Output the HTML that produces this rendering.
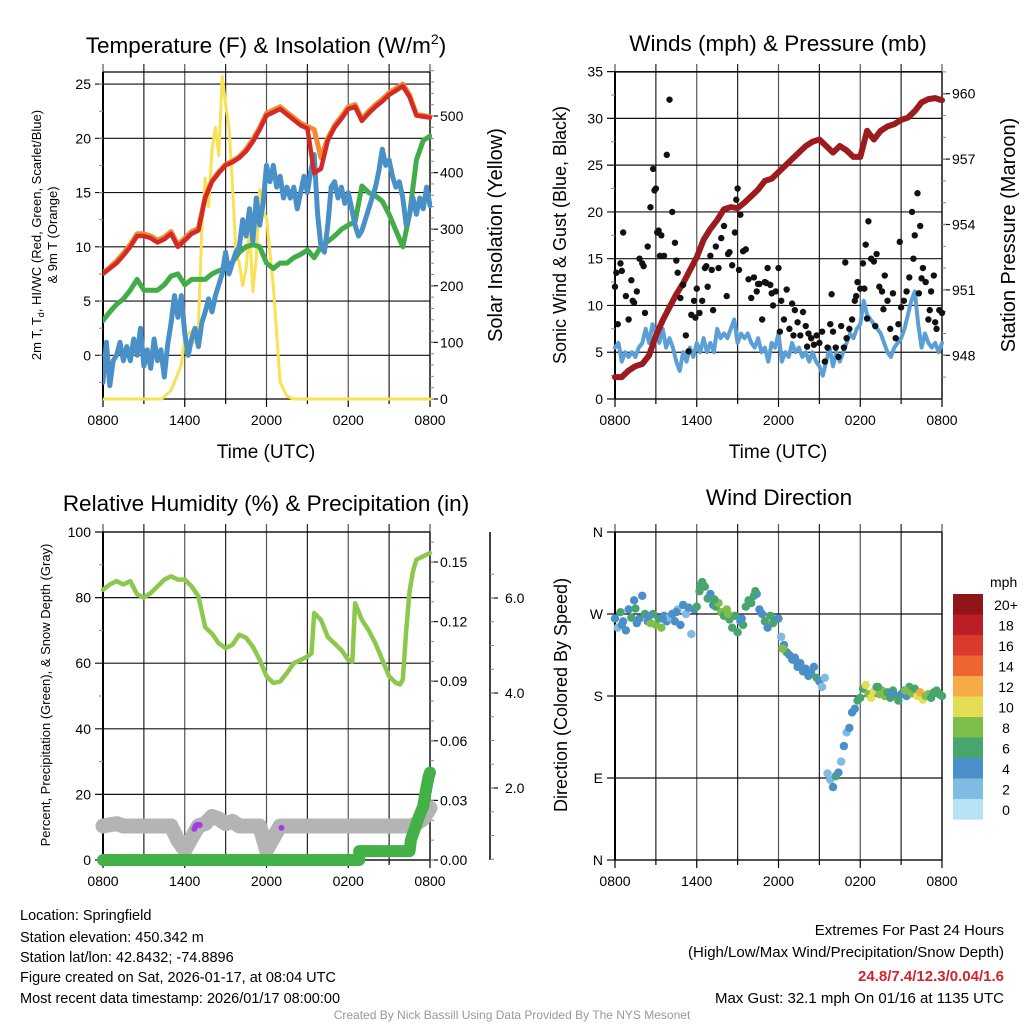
<!DOCTYPE html>
<html><head><meta charset="utf-8">
<style>
body{margin:0;background:#fff;}
svg{display:block;font-family:"Liberation Sans",sans-serif;}
</style></head>
<body>
<svg id="chart" width="1024" height="1024" viewBox="0 0 1024 1024" xmlns="http://www.w3.org/2000/svg">
<rect width="1024" height="1024" fill="#fff"/>
<g id="layer"></g>
<text x="266" y="53" font-size="22.5" text-anchor="middle">Temperature (F) &amp; Insolation (W/m<tspan dy="-9" font-size="14">2</tspan><tspan dy="9">)</tspan></text>
<text x="778" y="51" font-size="22.5" text-anchor="middle">Winds (mph) &amp; Pressure (mb)</text>
<text x="266" y="511" font-size="22.5" text-anchor="middle">Relative Humidity (%) &amp; Precipitation (in)</text>
<text x="779" y="505" font-size="22.5" text-anchor="middle">Wind Direction</text>
<text x="266" y="458" font-size="19" text-anchor="middle">Time (UTC)</text>
<text x="778" y="458" font-size="19" text-anchor="middle">Time (UTC)</text>
<text font-size="13" text-anchor="middle" transform="translate(41,235) rotate(-90)">2m T, T<tspan dy="3" font-size="9">d</tspan><tspan dy="-3">, HI/WC (Red, Green, Scarlet/Blue)</tspan></text>
<text font-size="13" text-anchor="middle" transform="translate(57,235) rotate(-90)">&amp; 9m T (Orange)</text>
<text font-size="20" text-anchor="middle" transform="translate(502,235) rotate(-90)">Solar Insolation (Yellow)</text>
<text font-size="18" text-anchor="middle" transform="translate(566,235) rotate(-90)">Sonic Wind &amp; Gust (Blue, Black)</text>
<text font-size="20" text-anchor="middle" transform="translate(1015,235) rotate(-90)">Station Pressure (Maroon)</text>
<text font-size="13" text-anchor="middle" transform="translate(50,695) rotate(-90)">Percent, Precipitation (Green), &amp; Snow Depth (Gray)</text>
<text font-size="18" text-anchor="middle" transform="translate(567,695) rotate(-90)">Direction (Colored By Speed)</text>
<g font-size="14.5">
<text x="20" y="920">Location: Springfield</text>
<text x="20" y="942">Station elevation: 450.342 m</text>
<text x="20" y="962">Station lat/lon: 42.8432; -74.8896</text>
<text x="20" y="982">Figure created on Sat, 2026-01-17, at 08:04 UTC</text>
<text x="20" y="1003">Most recent data timestamp: 2026/01/17 08:00:00</text>
</g>
<g font-size="15" text-anchor="end">
<text x="1004" y="935">Extremes For Past 24 Hours</text>
<text x="1004" y="957">(High/Low/Max Wind/Precipitation/Snow Depth)</text>
<text x="1004" y="981" fill="#d0262b" font-weight="bold">24.8/7.4/12.3/0.04/1.6</text>
<text x="1004" y="1003">Max Gust: 32.1 mph On 01/16 at 1135 UTC</text>
</g>
<text x="512" y="1019" font-size="12" fill="#999" text-anchor="middle">Created By Nick Bassill Using Data Provided By The NYS Mesonet</text>
</svg>
<script>
// ---- data ----
const timeLabels=["0800","1400","2000","0200","0800"];
const halfHours=[0,0.5,1,1.5,2,2.5,3,3.5,4,4.5,5,5.5,6,6.5,7,7.5,8,8.5,9,9.5,10,10.5,11,11.5,12,12.5,13,13.5,14,14.5,15,15.5,16,16.5,17,17.5,18,18.5,19,19.5,20,20.5,21,21.5,22,22.5,23,23.5,24];
const tempRed=[7.5,8,8.5,9.2,10,11,11,10.8,10.4,10.7,11.2,10,10.6,11.2,11.5,14.5,16,16.8,17.5,17.8,18.2,18.8,19.7,20.8,22.1,22.4,22.7,22.2,21.7,21.2,20.9,16.8,17.2,19.8,21,21.8,22.7,22.9,21.6,22.3,22.9,23.4,24,24.4,24.8,23.8,22.1,22,21.9];
const temp9m=[7.6,8.1,8.7,9.4,10.2,11.2,11.2,11,10.6,10.9,11.4,10.2,10.8,11.4,11.7,14.6,16.1,16.9,17.6,17.9,18.3,19,19.9,21,22.3,22.6,22.9,22.4,21.9,21.4,21.1,20.8,18.2,20,21.2,22,22.9,23.1,21.8,22.5,23.1,23.6,24.2,24.6,25,24,22.2,22.1,22];
const dewGreen=[3.2,4,4.7,5.2,6,7,6,6,6,6.5,7.3,7.5,6.5,7,7,7,7.5,7.8,8,8.6,9.5,10,10.2,10,8.5,8,8.5,8.5,9,9.3,9.7,9,10,10.5,11,11.6,12,12.3,15.6,15,14.7,14.2,13,11.5,10,13,18,19.8,20.2];
const quarterHours=[0,0.25,0.5,0.75,1,1.25,1.5,1.75,2,2.25,2.5,2.75,3,3.25,3.5,3.75,4,4.25,4.5,4.75,5,5.25,5.5,5.75,6,6.25,6.5,6.75,7,7.25,7.5,7.75,8,8.25,8.5,8.75,9,9.25,9.5,9.75,10,10.25,10.5,10.75,11,11.25,11.5,11.75,12,12.25,12.5,12.75,13,13.25,13.5,13.75,14,14.25,14.5,14.75,15,15.25,15.5,15.75,16,16.25,16.5,16.75,17,17.25,17.5,17.75,18,18.25,18.5,18.75,19,19.25,19.5,19.75,20,20.25,20.5,20.75,21,21.25,21.5,21.75,22,22.25,22.5,22.75,23,23.25,23.5,23.75,24];
const windChill=[-2.5,1.2,-2.8,-0.5,0,1.2,-0.5,0.8,-0.5,1.5,0,2.5,-1,0.5,-1.2,1.5,-0.5,0.5,-2,1,3,5.5,3.5,5.5,2,0,1.5,2.5,0.8,3,4,5.2,4,5.5,6.5,7.5,9.5,7.5,8.5,9.5,10,12.5,11,13.5,10.5,14.5,12,14,17.5,16,17.5,15.5,16.5,14.5,15.5,14.5,15.5,13.5,15,16.5,15,17,18.5,13,10,9.5,12,15.5,16,14.5,15.5,14,15,13.5,12,11,11.5,12.5,13.5,14.5,15.5,17,19,17.5,18,16.5,15.5,16,14.5,12,13,14.5,13,14.5,13.5,15.5,13.8];
const solarHours=[0,4.3,5,5.5,5.75,6,6.5,6.75,7,7.25,7.5,7.75,8,8.25,8.5,8.75,9,9.25,9.5,9.75,10,10.25,10.5,10.75,11,11.25,11.5,11.75,12,12.5,13,13.5,14,24];
const solarValues=[0,0,15,45,60,110,120,100,130,300,390,340,440,480,430,570,520,480,380,260,240,200,230,300,190,250,370,330,320,200,30,5,0,0];
const windSpeed=[5.5,6,4,5,4.5,5,4.5,5.5,6,7.5,6,8,7,6,7.5,5.5,6.5,5.5,4,3,5,4,5.5,4.5,6,5,6.5,5,6,5,7.5,6.5,7,6.5,7.5,8.5,6,7,6.5,7,6,5.5,6.5,5,5.5,4,6,5.5,7,4,5,4.5,6,5,5.5,4.5,5,4,5,4,3.5,2.5,4,5.5,3.5,5,4,5,6,7,6.5,7.5,8,10.5,9,8.5,8,7.5,7,6,5,4.5,5.5,6,6.5,7.5,9,10.5,11.5,8,5.5,7,6,5.5,6,5,6];
const pressure=[947,947,947.3,947.5,947.6,948,948.9,949.6,950.2,950.8,951.3,951.9,952.5,953.3,953.8,954.2,954.7,954.8,954.75,955,955.3,955.6,956,956.1,956.4,956.7,957,957.3,957.6,957.8,957.9,957.6,957.3,957.6,957.4,957.1,957.1,958.3,957.9,958.3,958.5,958.6,958.8,958.9,959.2,959.6,959.75,959.8,959.7];
const gustHours=[0,0.2,0.4,0.6,0.8,1,1.2,1.4,1.6,1.8,2,2.2,2.4,2.6,2.8,3,3.2,3.4,3.6,3.8,4,4.2,4.4,4.6,4.8,5,5.2,5.4,5.6,5.8,6,6.2,6.4,6.6,6.8,7,7.2,7.4,7.6,7.8,8,8.2,8.4,8.6,8.8,9,9.2,9.4,9.6,9.8,10,10.2,10.4,10.6,10.8,11,11.2,11.4,11.6,11.8,12,12.2,12.4,12.6,12.8,13,13.2,13.4,13.6,13.8,14,14.2,14.4,14.6,14.8,15,15.2,15.4,15.6,15.8,16,16.2,16.4,16.6,16.8,17,17.2,17.4,17.6,17.8,18,18.2,18.4,18.6,18.8,19,19.2,19.4,19.6,19.8,20,20.2,20.4,20.6,20.8,21,21.2,21.4,21.6,21.8,22,22.2,22.4,22.6,22.8,23,23.2,23.4,23.6,23.8,24,0.1,0.5,1.3,2.1,2.9,3.1,3.3,4.5,5.9,6.7,7.1,8.3,8.9,9.1,10.5,11.1,11.5,12.1,13.1,14.1,15.9,16.9,17.7,18.3,18.5,19.1,19.7,20.9,21.9,22.3,22.5,23.1,23.5];
const gustValues=[12,8,14.5,17.8,11,8.5,12.7,10.3,11.5,15,14.5,9.2,16.3,20.5,24.6,22.5,18,17.5,15.3,26.1,32,20,16.7,13.5,10.8,12.2,6.8,5.1,9,10.5,11.8,9.2,10.5,14,12,15.3,9.5,16.3,14,17.2,18.5,11,15.7,14.3,17.8,22.5,19.7,15.8,16,12.8,10.8,13,11.5,12.3,8.5,12.5,14,12.2,10,11.5,14,10.5,8.5,11.7,7.5,10.2,9.5,8.2,6.8,9.3,7.8,7,6.5,5.8,6.8,6,7.2,4,5.5,8,7.2,5.5,4.5,7.8,5.5,6.5,7.5,8.5,10.5,12.5,11.8,14.5,16.5,19,15,14.7,15.5,12,11.5,13.2,10.5,7.5,11.3,6.5,8,9.8,10.5,11.5,13,20,17.5,22,18.5,14,12.5,8.5,11.5,13.2,7.5,9.5,9.2,13.5,13.7,10.5,14.2,22.3,17.8,15.3,14.8,8.7,14.2,13.8,15.5,21.3,13.8,12.3,12.4,11.3,7.2,6.8,5.6,11.2,14.6,11,11.8,8.6,7.8,9.6,16.8,15,11.3,12.9,9.5,8.2];
const rhHours=[0,0.5,1,1.5,2,2.5,3,3.5,4,4.5,5,5.5,6,6.5,7,7.5,8,8.5,9,9.5,10,10.5,11,11.5,12,12.5,13,13.5,14,14.5,15,15.3,15.5,16,16.5,17,17.5,18,18.3,18.5,19,19.5,20,20.5,21,21.5,21.8,22,22.25,22.5,22.75,23,23.5,24];
const rhValues=[82.4,84,85,84,85,81,80,81.4,83.4,85.5,86.5,85.5,85.5,83.4,80.4,71,69,66,64.6,65.6,68.7,67.7,65,61,56,54,54.4,57,60,61,62,63,75.3,73.2,68,66,64,61,60.5,78.3,73.2,70,66,61,56,54,53.5,55,70,82,88,91.6,92.6,93.6];
const precipHours=[0,18.8,18.8,22.5,22.6,22.9,23.2,23.5,23.7,23.9,24];
const precipValues=[0,0,0.0045,0.0045,0.01,0.016,0.022,0.027,0.035,0.042,0.044];
const snowHours=[0,1,1.5,5,5.5,6,6.5,7,7.5,8,8.5,9,9.5,10,11.5,12,12.5,13,14,20,22.6,23,23.5,24];
const snowDepth=[1.2,1.25,1.2,1.2,0.9,0.69,0.95,1.2,1.25,1.4,1.35,1.25,1.3,1.2,1.2,0.69,0.95,1.2,1.2,1.2,1.2,1.25,1.35,1.58];
const purpleHours=[6.7,6.8,6.9,7.0,7.1,13.1];
const purpleValues=[1.14,1.2,1.22,1.22,1.22,1.16];
const wdHours=[0,0.2,0.4,0.6,0.8,1,1.2,1.4,1.6,1.8,2,2.2,2.4,2.6,2.8,3,3.2,3.4,3.6,3.8,4,4.2,4.4,4.6,4.8,5,5.2,5.4,5.6,5.8,6,6.2,6.4,6.6,6.8,7,7.2,7.4,7.6,7.8,8,8.2,8.4,8.6,8.8,9,9.2,9.4,9.6,9.8,10,10.2,10.4,10.6,10.8,11,11.2,11.4,11.6,11.8,12,12.2,12.4,12.6,12.8,13,13.2,13.4,13.6,13.8,14,14.2,14.4,14.6,14.8,15,15.2,15.4,15.6,15.8,16,16.2,16.4,16.6,16.8,17,17.2,17.4,17.6,17.8,18,18.2,18.4,18.6,18.8,19,19.2,19.4,19.6,19.8,20,20.2,20.4,20.6,20.8,21,21.2,21.4,21.6,21.8,22,22.2,22.4,22.6,22.8,23,23.2,23.4,23.6,23.8,24,0.5,1.5,2.5,3.5,4.5,6.3,7.3,8.3,9.3,10.3,12.3,13.3,19.3,20.3,21.3];
const wdDir=[265,255,272,262,252,275,266,285,260,265,290,270,262,260,270,258,265,255,268,262,266,270,262,275,258,280,270,277,248,275,278,295,305,300,287,292,280,278,282,272,268,275,264,255,268,250,262,258,278,285,282,290,292,275,270,262,255,268,260,264,265,245,236,228,225,220,222,212,216,207,210,202,205,212,200,196,190,200,95,88,80,92,96,108,125,140,145,162,166,175,178,188,192,182,178,185,190,182,186,180,184,178,186,180,175,182,186,180,190,183,188,180,184,176,180,182,178,184,186,182,180,258,276,268,265,272,302,286,270,265,295,232,218,190,183,186];
const wdSpeed=[5,3,6,5,5,4.5,6.5,4.5,4.5,5,5,6.5,5,8,7,9,7,8,4.5,5,3,5,5,3,4.5,4,2,4.5,3,4,7,7,6.5,6,6,5,5,7,9,8,7,9,7,6,6,7,5,6,7,7,6,6,5,5,4.5,7,5,6,7,7,5,3,5,7,5,5,4.5,5,4,4.5,5,4.5,4,5,7,4,3,2.5,2.5,3,5,6,4.5,3,4.5,2.5,4.5,5,5,7,6,7,10,8,10,11,7,8,9,8,7,7,6,6,7,5,5,5,7,8,6,11,13,10,9,8,6,7,7,6,7,5,7,5,5,5,6,6,8,5,7,8,5,7,5,9,7,6];
const speedBins=[0,2,4,6,8,10,12,14,16,18,20];
const speedColors=["#b8e3f7","#80bbe4","#4a8fc8","#48a56e","#7dbf4a","#e5dd55","#f6a944","#ee6530","#da3a2b","#bb1e24","#8f1519"];
const speedLabels=["0","2","4","6","8","10","12","14","16","18","20+"];

// ---- helpers ----
const NS="http://www.w3.org/2000/svg";
const layer=document.getElementById('layer');
function el(tag,attrs,parent){const e=document.createElementNS(NS,tag);for(const k in attrs)e.setAttribute(k,attrs[k]);(parent||layer).appendChild(e);return e;}
function group(name){const g=el('g',{});return g;}

function xScale(x0){return h=>x0+h*327/24;}
const xL=xScale(103), xR=xScale(615);
const yTemp=v=>355.3-v*10.85, ySolar=w=>399-w*0.566;
const yWind=v=>399-v*9.354, yPres=p=>355.3-(p-948)*21.8;
const yRH=v=>860-v*3.28, yPrecip=v=>860-v*1986.7, ySnow=v=>883-v*47.5;
const yDir=d=>860-d*328/360;

function frame(name,x0,yTop,yBot,xs){
  const g=group(name);
  for(let h=0;h<=24;h+=3){const x=xs(h);
    el('line',{x1:x,x2:x,y1:yTop-8,y2:yBot,stroke:h%6?'#222':'#555','stroke-width':1.2},g);
    if(h%6===0) el('line',{x1:x,x2:x,y1:yBot,y2:yBot+8,stroke:'#000','stroke-width':1.2},g);
    else el('line',{x1:x,x2:x,y1:yBot,y2:yBot+5,stroke:'#000','stroke-width':1.2},g);
  }
  el('line',{x1:x0,x2:x0+327,y1:yTop,y2:yTop,stroke:'#000','stroke-width':1.3},g);
  el('line',{x1:x0,x2:x0+327,y1:yBot,y2:yBot,stroke:'#000','stroke-width':1.3},g);
  el('line',{x1:x0,x2:x0,y1:yTop,y2:yBot,stroke:'#000','stroke-width':2},g);
  el('line',{x1:x0+327,x2:x0+327,y1:yTop,y2:yBot,stroke:'#000','stroke-width':1.3},g);
  timeLabels.forEach((t,i)=>{const tx=el('text',{x:xs(i*6),y:yBot+26,'font-size':14,'text-anchor':'middle'},g);tx.textContent=t;
    
    });
  return g;
}
function leftAxis(g,x0,ticks,labels,ys,minors,gridW){
  ticks.forEach((v,i)=>{const y=ys(v);
    el('line',{x1:x0-8,x2:gridW?x0+327:x0,y1:y,y2:y,stroke:'#111','stroke-width':1.2},g);
    const t=el('text',{x:x0-12,y:y+5,'font-size':14,'text-anchor':'end'},g);t.textContent=labels[i];
    
    });
  minors.forEach(v=>{const y=ys(v);el('line',{x1:x0-4,x2:x0,y1:y,y2:y,stroke:'#888','stroke-width':1},g);});
}
function rightAxis(g,xa,ticks,labels,ys,minors,lx){
  ticks.forEach((v,i)=>{const y=ys(v);
    el('line',{x1:xa,x2:xa+8,y1:y,y2:y,stroke:'#111','stroke-width':1.2},g);
    const t=el('text',{x:lx,y:y+5,'font-size':14,'text-anchor':'start'},g);t.textContent=labels[i];
    
    });
  minors.forEach(v=>{const y=ys(v);el('line',{x1:xa,x2:xa+4,y1:y,y2:y,stroke:'#888','stroke-width':1},g);});
}
function line(name,xs,ys,hours,vals,color,w,parent){
  const p=el('polyline',{points:hours.map((h,i)=>xs(h).toFixed(1)+','+ys(vals[i]).toFixed(1)).join(' '),fill:'none',stroke:color,'stroke-width':w,'stroke-linejoin':'round','stroke-linecap':'round'},parent);
  
  
  return p;
}
function range(a,b,s){const r=[];for(let v=a;v<=b+1e-9;v+=s)r.push(+v.toFixed(4));return r;}

// ---- panel 1 ----
const g1=frame('temperature-panel',103,72,399,xL);
leftAxis(g1,103,[0,5,10,15,20,25],["0","5","10","15","20","25"],yTemp,range(-2.5,25,2.5),true);
rightAxis(g1,430,[0,100,200,300,400,500],["0","100","200","300","400","500"],ySolar,range(0,580,20),440);
const c1=el('g',{'clip-path':'url(#c1)'});
const cp=el('clipPath',{id:'c1'});el('rect',{x:103,y:60,width:329,height:341},cp);
line('solar-insolation-line',xL,ySolar,solarHours,solarValues,'#f9e154',3,c1);
line('dewpoint-line',xL,yTemp,halfHours,dewGreen,'#41ac48',5,c1);
line('windchill-line',xL,yTemp,quarterHours,windChill,'#4a90c8',5,c1);
line('temp-9m-line',xL,yTemp,halfHours,temp9m,'#f28a30',5,c1);
line('temp-2m-line',xL,yTemp,halfHours,tempRed,'#d42a27',4.5,c1);

// ---- panel 2 ----
const g2=frame('wind-panel',615,72,399,xR);
leftAxis(g2,615,[0,5,10,15,20,25,30,35],["0","5","10","15","20","25","30","35"],yWind,range(2.5,32.5,5),true);
rightAxis(g2,942,[948,951,954,957,960],["948","951","954","957","960"],yPres,range(947,961,1),952);
line('wind-speed-line',xR,yWind,quarterHours,windSpeed,'#5b9fd6',4,g2);
line('pressure-line',xR,yPres,halfHours,pressure,'#9b1b1e',6,g2);
gustHours.forEach((h,i)=>{if(gustValues[i]===undefined)return;const c=el('circle',{cx:xR(h),cy:yWind(gustValues[i]),r:3.2,fill:'#111'},g2);
  
  });

// ---- panel 3 ----
const g3=frame('humidity-panel',103,532,860,xL);
leftAxis(g3,103,[0,20,40,60,80,100],["0","20","40","60","80","100"],yRH,range(10,90,20),true);
rightAxis(g3,430,[0,0.03,0.06,0.09,0.12,0.15],["0.00","0.03","0.06","0.09","0.12","0.15"],yPrecip,range(0,0.16,0.01),440);
const sa=group('snow-depth-axis');
el('line',{x1:490,x2:490,y1:532,y2:860,stroke:'#000','stroke-width':1.5},sa);
rightAxis(sa,490,[2,4,6],["2.0","4.0","6.0"],ySnow,range(0.5,6.5,0.5),505);
line('rh-line',xL,yRH,rhHours,rhValues,'#8cc84b',4.5,g3);
line('snow-depth-line',xL,ySnow,snowHours,snowDepth,'#b4b4b4',15,g3);
line('precip-line',xL,yPrecip,precipHours,precipValues,'#44b048',12,g3);
purpleHours.forEach((h,i)=>{const c=el('circle',{cx:xL(h),cy:ySnow(purpleValues[i]),r:3,fill:'#a33be8'},g3);
  
  });

// ---- panel 4 ----
const g4=frame('direction-panel',615,532,860,xR);
leftAxis(g4,615,[0,90,180,270,360],["N","E","S","W","N"],yDir,[],true);
function colorFor(s){let idx=0;for(let i=0;i<speedBins.length;i++)if(s>=speedBins[i])idx=i;return speedColors[idx];}
wdHours.forEach((h,i)=>{if(wdDir[i]===undefined)return;const c=el('circle',{cx:xR(h),cy:yDir(wdDir[i]),r:4.2,fill:colorFor(wdSpeed[i]===undefined?5:wdSpeed[i])},g4);
  
  });
const leg=group('speed-colorbar');
const lt=el('text',{x:990,y:587,'font-size':14,'text-anchor':'start'},leg);lt.textContent='mph';
for(let i=0;i<speedColors.length;i++){const k=speedColors.length-1-i;const y=594+i*20.5;
  const r=el('rect',{x:953,y:y,width:30,height:20.6,fill:speedColors[k]},leg);
  
  
  const t=el('text',{x:1006,y:y+16,'font-size':14,'text-anchor':'middle'},leg);t.textContent=speedLabels[k];
  
  }
</script>
</body></html>
